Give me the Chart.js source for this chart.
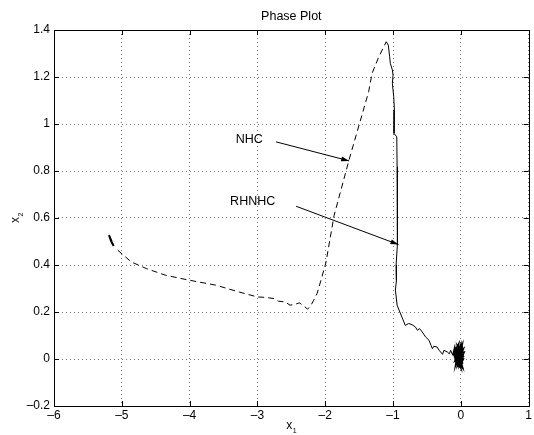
<!DOCTYPE html>
<html>
<head>
<meta charset="utf-8">
<title>Phase Plot</title>
<script src="https://cdn.jsdelivr.net/npm/chart.js@4"></script>
<style>
  body { margin: 0; background: #fff; }
</style>
</head>
<body>
<canvas id="phaseChart" width="534" height="435"></canvas>
<script>
// NHC trajectory (dashed), x1 / x2
const nhcX = [-5.06, -4.86, -4.64, -4.35, -4.0, -3.61, -3.27, -3.0, -2.87, -2.755, -2.69, -2.59, -2.52, -2.44, -2.38, -2.31, -2.26, -2.21, -2.17, -2.12, -2.07, -1.99, -1.87, -1.65, -1.36, -1.31, -1.21, -1.16, -1.10];
const nhcY = [0.463, 0.413, 0.385, 0.356, 0.335, 0.314, 0.285, 0.264, 0.262, 0.257, 0.246, 0.243, 0.229, 0.233, 0.239, 0.224, 0.212, 0.229, 0.25, 0.279, 0.328, 0.41, 0.61, 0.846, 1.137, 1.215, 1.286, 1.315, 1.35];

// short solid wiggle at the NHC start
const nhcStartX = [-5.19, -5.15, -5.18, -5.14, -5.17, -5.12];
const nhcStartY = [0.527, 0.50, 0.52, 0.49, 0.51, 0.481];

// RHNHC trajectory (solid)
const rhX = [-1.10, -1.07, -1.05, -1.04, -1.01, -1.0, -1.01, -0.99, -0.98, -0.985, -0.945, -0.94, -0.94, -0.93, -0.955, -0.95, -0.965, -0.94, -0.90, -0.87, -0.82, -0.77, -0.72, -0.67, -0.64, -0.61, -0.57, -0.52, -0.47, -0.44, -0.42, -0.40, -0.35, -0.32, -0.27, -0.25, -0.20, -0.17, -0.15, -0.12];
const rhY = [1.35, 1.336, 1.286, 1.258, 1.23, 1.208, 1.173, 1.116, 1.06, 0.96, 0.945, 0.818, 0.598, 0.49, 0.40, 0.334, 0.293, 0.229, 0.2, 0.179, 0.143, 0.151, 0.146, 0.136, 0.122, 0.13, 0.115, 0.094, 0.08, 0.058, 0.044, 0.054, 0.051, 0.037, 0.02, 0.037, 0.03, 0.022, 0.037, 0.016];

// noisy settling around the origin (solid)
const rhEndX = [-0.12, -0.09, -0.06, -0.10, -0.03, -0.08, 0.01, -0.07, 0.03, -0.05, 0.04, -0.09, 0.02, -0.04, 0.05, -0.11, 0.0, -0.06, 0.03, -0.08, 0.02, -0.02, 0.04, -0.07, -0.01, -0.05, 0.02, -0.03, 0.01, -0.02,
    -0.08, 0.03, -0.06, 0.04, -0.04, 0.01, -0.09, 0.02, -0.05, 0.03, -0.07, 0.0, -0.03, 0.02, -0.06, 0.01, -0.04, 0.03, -0.02, 0.0];
const rhEndY = [0.016, 0.05, -0.02, 0.03, 0.066, -0.03, 0.04, 0.0, -0.04, 0.055, 0.01, -0.01, 0.06, -0.035, 0.03, 0.02, -0.04, 0.045, -0.02, 0.035, 0.05, -0.03, 0.0, 0.01, 0.055, -0.025, 0.02, -0.01, 0.03, 0.005,
    0.04, -0.02, 0.02, 0.045, -0.015, 0.025, 0.005, -0.03, 0.035, 0.015, -0.005, 0.05, -0.02, 0.01, 0.03, -0.03, 0.04, -0.01, 0.02, 0.0];

// axes
const xTickValues = [-6, -5, -4, -3, -2, -1, 0, 1];
const xTickLabels = ["\u20136", "\u20135", "\u20134", "\u20133", "\u20132", "\u20131", "0", "1"];
const yTickValues = [-0.2, 0, 0.2, 0.4, 0.6, 0.8, 1.0, 1.2, 1.4];
const yTickLabels = ["\u20130.2", "0", "0.2", "0.4", "0.6", "0.8", "1", "1.2", "1.4"];

// annotations: label text, label position, arrow start, arrow tip
const noteText = ["NHC", "RHNHC"];
const noteAt = [[-3.12, 0.933], [-3.07, 0.669]];
const arrowFrom = [[-2.725, 0.924], [-2.43, 0.650]];
const arrowTo = [[-1.647, 0.843], [-0.92, 0.487]];

const FONT = "'Liberation Sans', Arial, Helvetica, sans-serif";

const toPoints = (xs, ys) => xs.map((x, i) => ({ x: x, y: ys[i] }));

const framePlugin = {
    id: "frame",
    afterDraw(chart) {
        const c = chart.ctx;
        const a = chart.chartArea;
        const xs = chart.scales.x;
        const ys = chart.scales.y;
        c.save();

        // box
        c.strokeStyle = "#000";
        c.lineWidth = 1;
        c.setLineDash([]);
        c.strokeRect(Math.round(a.left) + 0.5, Math.round(a.top) + 0.5,
            Math.round(a.right - a.left), Math.round(a.bottom - a.top));

        // inward ticks on all four sides
        const tl = 5;
        c.beginPath();
        xTickValues.forEach(v => {
            const px = Math.round(xs.getPixelForValue(v)) + 0.5;
            c.moveTo(px, a.bottom); c.lineTo(px, a.bottom - tl);
            c.moveTo(px, a.top); c.lineTo(px, a.top + tl);
        });
        yTickValues.forEach(v => {
            const py = Math.round(ys.getPixelForValue(v)) + 0.5;
            c.moveTo(a.left, py); c.lineTo(a.left + tl, py);
            c.moveTo(a.right, py); c.lineTo(a.right - tl, py);
        });
        c.stroke();

        // title
        c.fillStyle = "#000";
        c.font = "12.5px " + FONT;
        c.textAlign = "center";
        c.textBaseline = "middle";
        c.fillText("Phase Plot", (a.left + a.right) / 2, 17);

        // x label: x with subscript 1
        const cx = (a.left + a.right) / 2;
        c.font = "12px " + FONT;
        c.textAlign = "left";
        c.fillText("x", cx - 5, 426);
        c.font = "7px " + FONT;
        c.fillText("1", cx + 1.5, 431);

        // y label rotated
        c.save();
        c.translate(16, (a.top + a.bottom) / 2);
        c.rotate(-Math.PI / 2);
        c.font = "12px " + FONT;
        c.fillText("x", -5, 0);
        c.font = "7px " + FONT;
        c.fillText("2", 1.5, 5);
        c.restore();

        // annotations with arrows
        c.font = "12.5px " + FONT;
        c.textAlign = "center";
        noteText.forEach((t, i) => {
            c.fillText(t, xs.getPixelForValue(noteAt[i][0]), ys.getPixelForValue(noteAt[i][1]));
            const x0 = xs.getPixelForValue(arrowFrom[i][0]);
            const y0 = ys.getPixelForValue(arrowFrom[i][1]);
            const x1 = xs.getPixelForValue(arrowTo[i][0]);
            const y1 = ys.getPixelForValue(arrowTo[i][1]);
            const ang = Math.atan2(y1 - y0, x1 - x0);
            c.beginPath();
            c.moveTo(x0, y0);
            c.lineTo(x1, y1);
            c.stroke();
            const hl = 8, hw = 2.5;
            c.beginPath();
            c.moveTo(x1, y1);
            c.lineTo(x1 - hl * Math.cos(ang) + hw * Math.sin(ang), y1 - hl * Math.sin(ang) - hw * Math.cos(ang));
            c.lineTo(x1 - hl * Math.cos(ang) - hw * Math.sin(ang), y1 - hl * Math.sin(ang) + hw * Math.cos(ang));
            c.closePath();
            c.fill();
        });
        c.restore();
    }
};

const lineStyle = {
    showLine: true,
    pointRadius: 0,
    borderColor: "#000",
    borderWidth: 1,
    tension: 0,
    fill: false
};

new Chart(document.getElementById("phaseChart").getContext("2d"), {
    type: "scatter",
    data: {
        datasets: [
            Object.assign({ label: "NHC", data: toPoints(nhcX, nhcY), borderDash: [6, 4] }, lineStyle),
            Object.assign({ label: "NHC start", data: toPoints(nhcStartX, nhcStartY) }, lineStyle, { borderWidth: 2 }),
            Object.assign({ label: "RHNHC", data: toPoints(rhX, rhY) }, lineStyle),
            Object.assign({ label: "RHNHC end", data: toPoints(rhEndX, rhEndY) }, lineStyle, { borderWidth: 1.5 })
        ]
    },
    options: {
        responsive: false,
        animation: false,
        layout: { padding: { top: 30, right: 3, left: 0, bottom: 0 } },
        plugins: {
            legend: { display: false },
            title: { display: false },
            tooltip: { enabled: false }
        },
        scales: {
            x: {
                type: "linear",
                min: -6,
                max: 1,
                afterFit(scale) { scale.height = 29; },
                afterBuildTicks(scale) { scale.ticks = xTickValues.map(v => ({ value: v })); },
                ticks: {
                    padding: 2,
                    color: "#000",
                    font: { family: FONT, size: 12 },
                    callback: (v) => xTickLabels[xTickValues.indexOf(v)]
                },
                grid: { color: "rgba(0,0,0,0.55)", drawTicks: false },
                border: { display: false, dash: [1, 3] }
            },
            y: {
                type: "linear",
                min: -0.2,
                max: 1.4,
                afterFit(scale) { scale.width = 54; },
                afterBuildTicks(scale) { scale.ticks = yTickValues.map(v => ({ value: v })); },
                ticks: {
                    padding: 4,
                    color: "#000",
                    font: { family: FONT, size: 12 },
                    callback: (v) => yTickLabels[yTickValues.indexOf(v)]
                },
                grid: { color: "rgba(0,0,0,0.55)", drawTicks: false },
                border: { display: false, dash: [1, 3] }
            }
        }
    },
    plugins: [framePlugin]
});
</script>
</body>
</html>
